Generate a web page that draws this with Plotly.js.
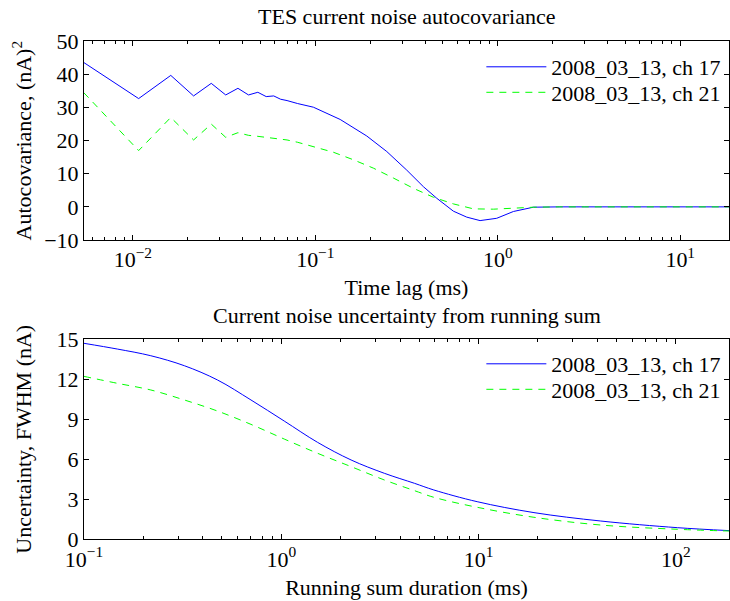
<!DOCTYPE html>
<html>
<head>
<meta charset="utf-8">
<script src="https://cdn.plot.ly/plotly-3.0.1.min.js"></script>
<style>html,body{margin:0;padding:0;background:#fff;}#chart{width:730px;height:601px;}</style>
</head>
<body>
<div id="chart"></div>
<script>
// ---- Top panel: autocovariance ----
var lagCh17 = [0.00538, 0.01076, 0.01614, 0.02152, 0.0269, 0.03228, 0.03766, 0.04304, 0.04842, 0.0538, 0.05918, 0.06456,
               0.07, 0.08, 0.0976, 0.1368, 0.1914, 0.2465, 0.317, 0.391, 0.463, 0.52, 0.571, 0.676, 0.80, 0.987, 1.218, 1.567, 1.854, 2.19, 3, 5, 10, 18.5];
var autocovCh17 = [43.6, 32.7, 39.7, 33.5, 37.3, 33.8, 35.8, 33.8, 34.6, 33.3, 33.5, 32.5,
                   32.1, 31.2, 30.1, 26.4, 21.4, 16.7, 11.1, 6.1, 2.6, 0.4, -1.3, -3.1, -4.15, -3.45, -1.4, -0.1, 0.06, 0.0, 0.0, 0.0, 0.0, 0.0];
var lagCh21 = [0.00538, 0.01076, 0.01614, 0.02152, 0.0269, 0.03228, 0.03766, 0.04304, 0.04842, 0.0538, 0.05918, 0.06456,
               0.07, 0.08, 0.0976, 0.1256, 0.162, 0.208, 0.268, 0.345, 0.444, 0.571, 0.735, 0.946, 1.218, 1.567, 2.19, 3, 5, 10, 18.5];
var autocovCh21 = [34.5, 17.0, 27.0, 20.2, 25.0, 21.0, 22.4, 21.6, 21.3, 21.0, 20.8, 20.5,
                   20.2, 19.5, 18.2, 16.5, 14.2, 11.7, 8.7, 5.6, 2.9, 0.9, -0.6, -0.7, -0.4, -0.1, 0.0, 0.0, 0.0, 0.0, 0.0];

// ---- Bottom panel: running-sum uncertainty ----
var durationMs = [0.1, 0.1476, 0.218, 0.3225, 0.475, 0.702, 1.035, 1.528, 2.258, 3.33, 4.73, 5.93, 9.84, 19.1, 41.6, 102, 186];
var fwhmCh17 = [14.7, 14.27, 13.77, 13.02, 11.95, 10.45, 8.87, 7.27, 5.95, 4.95, 4.2, 3.7, 2.82, 2.0, 1.37, 0.87, 0.65];
var fwhmCh21 = [12.22, 11.7, 11.2, 10.45, 9.62, 8.62, 7.52, 6.45, 5.45, 4.45, 3.65, 3.15, 2.4, 1.65, 1.07, 0.75, 0.62];

var seriesNames = ['2008_03_13, ch 17', '2008_03_13, ch 21'];
var topXTickVals = [0.01, 0.1, 1, 10];
var topXTickText = ['10<sup>\u22122</sup>', '10<sup>\u22121</sup>', '10<sup>0</sup>', '10<sup>1</sup>'];
var topYTickVals = [-10, 0, 10, 20, 30, 40, 50];
var botXTickVals = [0.1, 1, 10, 100];
var botXTickText = ['10<sup>\u22121</sup>', '10<sup>0</sup>', '10<sup>1</sup>', '10<sup>2</sup>'];
var botYTickVals = [0, 3, 6, 9, 12, 15];

function minorVals(lo, hi) {
  var v = [];
  for (var e = lo; e <= hi; e++) {
    for (var m = 2; m <= 9; m++) v.push(m * Math.pow(10, e));
  }
  return v;
}

var FONT = 'Liberation Serif, Times New Roman, serif';
var BLUE = '#0000ff', GREEN = '#00ff00';

var traces = [
  {x: lagCh17, y: autocovCh17, name: seriesNames[0], type: 'scatter', mode: 'lines',
   line: {color: BLUE, width: 1}, xaxis: 'x', yaxis: 'y', legend: 'legend'},
  {x: lagCh21, y: autocovCh21, name: seriesNames[1], type: 'scatter', mode: 'lines',
   line: {color: GREEN, width: 1, dash: '7px,6px'}, xaxis: 'x', yaxis: 'y', legend: 'legend2'},
  {x: durationMs, y: fwhmCh17, name: seriesNames[0], type: 'scatter', mode: 'lines',
   line: {color: BLUE, width: 1, shape: 'spline'}, xaxis: 'x2', yaxis: 'y2', legend: 'legend3'},
  {x: durationMs, y: fwhmCh21, name: seriesNames[1], type: 'scatter', mode: 'lines',
   line: {color: GREEN, width: 1, dash: '7px,6px', shape: 'spline'}, xaxis: 'x2', yaxis: 'y2', legend: 'legend4'}
];

function axBase() {
  return {showline: true, linecolor: '#000', linewidth: 1, mirror: 'allticks',
          ticks: 'inside', ticklen: 5, tickcolor: '#000', tickwidth: 1,
          showgrid: false, zeroline: false, fixedrange: true,
          tickfont: {family: FONT, size: 22, color: '#000'}};
}
var titleFont = {family: FONT, size: 22, color: '#000'};

var xa = axBase();
Object.assign(xa, {type: 'log', domain: [0.1151, 0.9986], range: [Math.log10(0.0054), Math.log10(18.5)],
  tickmode: 'array', tickvals: topXTickVals, ticktext: topXTickText, anchor: 'y',
  minor: {tickmode: 'array', tickvals: minorVals(-3, 1), ticks: 'inside', ticklen: 3, tickcolor: '#000', showgrid: false},
  title: {text: 'Time lag (ms)', font: titleFont, standoff: 8}});
var ya = axBase();
Object.assign(ya, {domain: [0.6007, 0.9313], range: [-10, 50], tickmode: 'array',
  tickvals: topYTickVals, anchor: 'x',
  title: {text: 'Autocovariance, (nA)<sup>2</sup>', font: titleFont, standoff: 6}});
var xa2 = axBase();
Object.assign(xa2, {type: 'log', domain: [0.1151, 0.9986], range: [-1, Math.log10(186)],
  tickmode: 'array', tickvals: botXTickVals, ticktext: botXTickText, anchor: 'y2',
  minor: {tickmode: 'array', tickvals: minorVals(-1, 2), ticks: 'inside', ticklen: 3, tickcolor: '#000', showgrid: false},
  title: {text: 'Running sum duration (ms)', font: titleFont, standoff: 8}});
var ya2 = axBase();
Object.assign(ya2, {domain: [0.1027, 0.4354], range: [0, 15], tickmode: 'array',
  tickvals: botYTickVals, anchor: 'x2',
  title: {text: 'Uncertainty, FWHM (nA)', font: titleFont, standoff: 18}});

var legendBase = {font: {family: FONT, size: 22, color: '#000'}, bgcolor: 'rgba(0,0,0,0)',
  borderwidth: 0, xanchor: 'right', yanchor: 'top', itemwidth: 60, tracegroupgap: 0, x: 0.995};
function legAt(topPx) { return Object.assign({}, legendBase, {y: 1 - topPx / 601}); }

var layout = {
  width: 730, height: 601,
  margin: {l: 0, r: 0, t: 0, b: 0},
  paper_bgcolor: '#fff', plot_bgcolor: '#fff',
  font: {family: FONT, size: 22, color: '#000'},
  showlegend: true,
  xaxis: xa, yaxis: ya, xaxis2: xa2, yaxis2: ya2,
  legend: legAt(46), legend2: legAt(71.5), legend3: legAt(343), legend4: legAt(368.5),
  annotations: [
    {text: 'TES current noise autocovariance', xref: 'paper', yref: 'paper', x: 0.557, y: 1 - 17 / 601,
     xanchor: 'center', yanchor: 'middle', showarrow: false, font: titleFont},
    {text: 'Current noise uncertainty from running sum', xref: 'paper', yref: 'paper', x: 0.557, y: 1 - 315 / 601,
     xanchor: 'center', yanchor: 'middle', showarrow: false, font: titleFont}
  ]
};

Plotly.newPlot('chart', traces, layout, {displayModeBar: false, staticPlot: true});
</script>
</body>
</html>
